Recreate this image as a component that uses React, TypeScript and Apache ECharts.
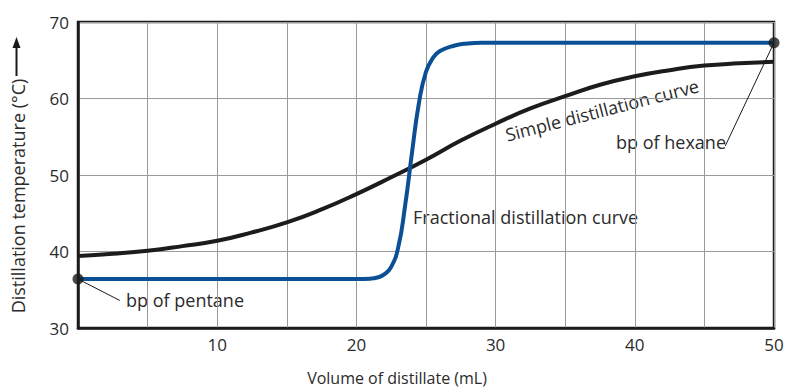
import React, { useEffect, useRef } from 'react';
import * as echarts from 'echarts';

// Fractional distillation curve (blue)
const fractionalX = [0, 20, 21, 21.5, 22, 22.5, 23, 23.5, 24, 24.5, 25, 25.5, 26, 27, 28, 29, 50];
const fractionalY = [36.4, 36.4, 36.45, 36.6, 37.0, 38.0, 40.5, 46.0, 53.0, 59.5, 63.5, 65.3, 66.2, 66.9, 67.2, 67.3, 67.3];

// Simple distillation curve (black)
const simpleX = [0, 2.5, 5, 7.5, 10, 12.5, 15, 17.5, 20, 22.5, 25, 27.5, 30, 32.5, 35, 37.5, 40, 42.5, 45, 47.5, 50];
const simpleY = [39.4, 39.7, 40.1, 40.7, 41.4, 42.5, 43.8, 45.5, 47.5, 49.7, 52.0, 54.5, 56.7, 58.7, 60.3, 61.8, 62.9, 63.7, 64.3, 64.6, 64.8];

// Boiling points (pentane, hexane)
const boilingX = [0, 50];
const boilingY = [36.4, 67.3];

// Leader lines for annotations
const pentaneLeader = [[0, 36.4], [3.0, 33.6]];
const hexaneLeader = [[50, 67.3], [46.5, 53.8]];

const xAxisTitle = 'Volume of distillate (mL)';
const yAxisTitle = 'Distillation temperature (°C)';

const FONT = '"Open Sans", sans-serif';
const TEXT = '#2b2b2b';

export default function App() {
  const ref = useRef<HTMLDivElement>(null);
  useEffect(() => {
    if (!ref.current) return;
    const chart = echarts.init(ref.current, undefined, { renderer: 'svg' });
    const zip = (xs: number[], ys: number[]) => xs.map((x, i) => [x, ys[i]]);
    chart.setOption({
      animation: false,
      backgroundColor: '#ffffff',
      textStyle: { fontFamily: FONT },
      grid: {
        left: 78, right: 24, top: 22, bottom: 64,
        show: true, borderColor: '#1a1a1a', borderWidth: 2.5, containLabel: false,
      },
      xAxis: {
        type: 'value', min: 0, max: 50, interval: 5,
        axisLine: { show: true, onZero: false, lineStyle: { color: '#1a1a1a', width: 2.5 } },
        axisTick: { show: false },
        splitLine: { show: true, lineStyle: { color: '#9a9a9a', width: 1 } },
        axisLabel: {
          color: TEXT, fontSize: 17, fontFamily: FONT, margin: 8,
          formatter: (v: number) => (v % 10 === 0 && v !== 0 ? String(v) : ''),
        },
      },
      yAxis: {
        type: 'value', min: 30, max: 70, interval: 10,
        axisLine: { show: true, onZero: false, lineStyle: { color: '#1a1a1a', width: 2.5 } },
        axisTick: { show: false },
        splitLine: { show: true, lineStyle: { color: '#9a9a9a', width: 1 } },
        axisLabel: { color: TEXT, fontSize: 17, fontFamily: FONT, margin: 9 },
      },
      series: [
        {
          type: 'line', name: 'Simple', data: zip(simpleX, simpleY), smooth: 0.5,
          showSymbol: false, lineStyle: { color: '#1c1c1c', width: 4 }, z: 3,
        },
        {
          type: 'line', name: 'Fractional', data: zip(fractionalX, fractionalY), smooth: 0.5,
          showSymbol: false, lineStyle: { color: '#0b4f94', width: 4 }, z: 4,
        },
        {
          type: 'line', data: pentaneLeader, showSymbol: false,
          lineStyle: { color: '#1a1a1a', width: 1 }, z: 5,
        },
        {
          type: 'line', data: hexaneLeader, showSymbol: false,
          lineStyle: { color: '#1a1a1a', width: 1 }, z: 5,
        },
        {
          type: 'scatter', data: zip(boilingX, boilingY), symbolSize: 11,
          itemStyle: { color: '#1a1a1a' }, z: 6,
        },
      ],
      graphic: [
        {
          type: 'text', x: 397, y: 378,
          style: { text: xAxisTitle, fill: TEXT, font: `16px ${FONT}`, textAlign: 'center', textVerticalAlign: 'middle' },
        },
        {
          type: 'text', x: 17.5, y: 196, rotation: Math.PI / 2,
          style: { text: yAxisTitle, fill: TEXT, font: `18px ${FONT}`, textAlign: 'center', textVerticalAlign: 'middle' },
        },
        {
          type: 'line', shape: { x1: 16.5, y1: 76, x2: 16.5, y2: 45 },
          style: { stroke: '#1a1a1a', lineWidth: 2 },
        },
        {
          type: 'polygon', shape: { points: [[16.5, 37], [12.5, 48], [20.5, 48]] },
          style: { fill: '#1a1a1a' },
        },
        {
          type: 'text', x: 602, y: 110, rotation: 14.5 * Math.PI / 180,
          style: { text: 'Simple distillation curve', fill: TEXT, font: `18px ${FONT}`, textAlign: 'center', textVerticalAlign: 'middle' },
        },
        {
          type: 'text', x: 671, y: 142,
          style: { text: 'bp of hexane', fill: TEXT, font: `18px ${FONT}`, textAlign: 'center', textVerticalAlign: 'middle' },
        },
        {
          type: 'text', x: 413, y: 217,
          style: { text: 'Fractional distillation curve', fill: TEXT, font: `18px ${FONT}`, textAlign: 'left', textVerticalAlign: 'middle' },
        },
        {
          type: 'text', x: 126, y: 300,
          style: { text: 'bp of pentane', fill: TEXT, font: `18px ${FONT}`, textAlign: 'left', textVerticalAlign: 'middle' },
        },
      ],
    });
    return () => chart.dispose();
  }, []);
  return <div ref={ref} style={{ position: 'fixed', left: 0, top: 0, width: 798, height: 392 }} />;
}
